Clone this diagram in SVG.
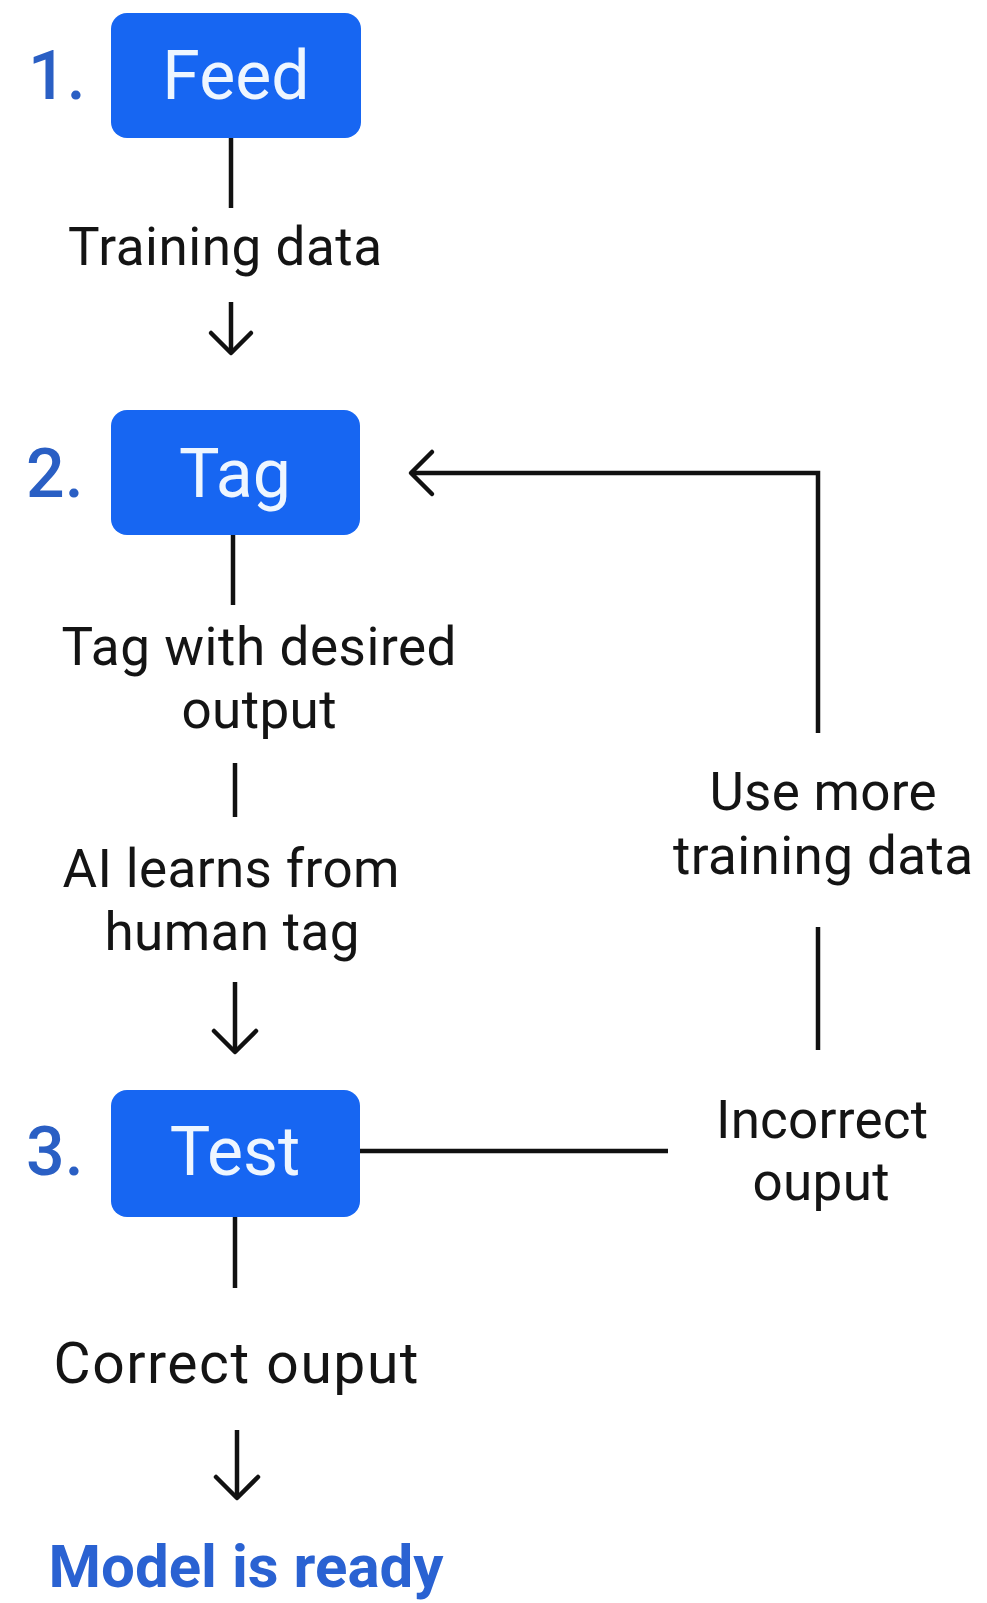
<svg xmlns="http://www.w3.org/2000/svg" width="987" height="1603" viewBox="0 0 987 1603">
<style>
.box{fill:#1766F2}
.num{font-family:Roboto,"Liberation Sans",sans-serif;font-size:68px;font-weight:500;fill:#2A5FC4}
.btxt{font-family:Roboto,"Liberation Sans",sans-serif;font-size:68px;fill:#EEF6FF;text-anchor:middle}
.lbl{font-family:Roboto,"Liberation Sans",sans-serif;font-size:53px;fill:#141414;text-anchor:middle}
.ready{font-family:Roboto,"Liberation Sans",sans-serif;font-size:60px;font-weight:bold;fill:#2A62D2;text-anchor:middle}
.ln{stroke:#111;stroke-width:4.5;fill:none}
.hd{stroke:#111;stroke-width:4.5;fill:none;stroke-linecap:round;stroke-linejoin:round}
</style>
<rect width="987" height="1603" fill="#ffffff"/>
<g id="feed">
<rect class="box" x="111" y="13" width="250" height="125" rx="16"/>
<text class="num" x="28" y="99">1.</text>
<text class="btxt" x="236" y="99">Feed</text>
</g>
<g id="tag">
<rect class="box" x="111" y="410" width="249" height="125" rx="16"/>
<text class="num" x="26" y="497">2.</text>
<text class="btxt" x="235" y="497">Tag</text>
</g>
<g id="test">
<rect class="box" x="111" y="1090" width="249" height="127" rx="16"/>
<text class="num" x="26" y="1175">3.</text>
<text class="btxt" x="235" y="1175">Test</text>
</g>
<g id="ready">
<text class="ready" x="246" y="1587" textLength="395">Model is ready</text>
</g>
<g id="connectors">
<line class="ln" x1="231" y1="138" x2="231" y2="208"/>
<line class="ln" x1="231" y1="302" x2="231" y2="350"/>
<polyline class="hd" points="211,333 231,353 251,333"/>
<line class="ln" x1="233" y1="535" x2="233" y2="605"/>
<line class="ln" x1="235" y1="763" x2="235" y2="817"/>
<line class="ln" x1="235" y1="982" x2="235" y2="1050"/>
<polyline class="hd" points="214,1031 235,1052 256,1031"/>
<line class="ln" x1="235" y1="1217" x2="235" y2="1288"/>
<line class="ln" x1="237" y1="1430" x2="237" y2="1498"/>
<polyline class="hd" points="216,1477 237,1498 258,1477"/>
<line class="ln" x1="360" y1="1151" x2="668" y2="1151"/>
<line class="ln" x1="818" y1="927" x2="818" y2="1050"/>
<polyline class="ln" points="818,733 818,473 412,473"/>
<polyline class="hd" points="432,452 411,473 432,494"/>
</g>
<g id="labels">
<text class="lbl" x="225" y="265" textLength="314">Training data</text>
<text class="lbl" x="259" y="665" textLength="395">Tag with desired</text>
<text class="lbl" x="259" y="728" textLength="155">output</text>
<text class="lbl" x="231" y="887" textLength="337">AI learns from</text>
<text class="lbl" x="232" y="950" textLength="255">human tag</text>
<text class="lbl" x="823" y="810" textLength="227">Use more</text>
<text class="lbl" x="823" y="874" textLength="300">training data</text>
<text class="lbl" x="822" y="1138" textLength="212">Incorrect</text>
<text class="lbl" x="821" y="1200" textLength="137">ouput</text>
<text class="lbl" x="236" y="1383" textLength="365" style="font-size:57px">Correct ouput</text>
</g>
</svg>
